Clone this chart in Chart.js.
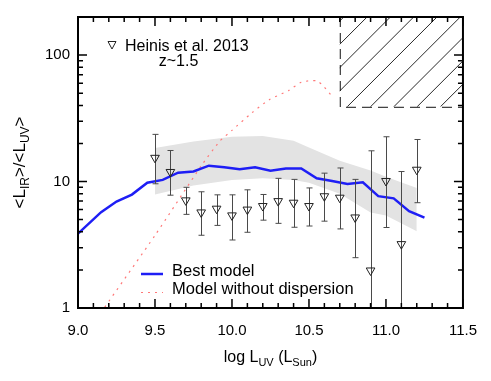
<!DOCTYPE html>
<html>
<head>
<meta charset="utf-8">
<script src="https://cdn.jsdelivr.net/npm/chart.js@4.4.1/dist/chart.umd.min.js"></script>
<style>
  html, body { margin: 0; padding: 0; background: #fff; }
  #wrap { width: 491px; height: 381px; }
</style>
</head>
<body>
<div id="wrap"><canvas id="c" width="491" height="381"></canvas></div>
<script>
// ---- Observations (Heinis et al. 2013, z~1.5) ----
const obsX    = [9.5, 9.6, 9.7, 9.8, 9.9, 10.0, 10.1, 10.2, 10.3, 10.4, 10.5, 10.6, 10.7, 10.8, 10.9, 11.0, 11.1, 11.2];
const obsY    = [15.4, 11.9, 7.1, 5.7, 6.1, 5.4, 6.0, 6.4, 7.0, 6.8, 6.4, 7.65, 7.45, 5.2, 1.98, 10.1, 3.2, 12.4];
const obsHigh = [23.6, 17.6, 9.0, 8.3, 7.85, 7.85, 8.6, 7.9, 10.6, 10.4, 8.9, 11.65, 12.8, 10.4, 17.5, 22.6, 12.0, 21.5];
const obsLow  = [9.6, 7.8, 5.5, 3.76, 4.5, 3.45, 3.97, 4.95, 4.67, 4.35, 4.45, 4.86, 4.22, 2.5, 0.5, 4.33, 0.5, 6.8];

// ---- Best model ----
const modelX = [9.0, 9.15, 9.25, 9.35, 9.45, 9.55, 9.65, 9.75, 9.85, 9.95, 10.05, 10.15, 10.25, 10.35, 10.45, 10.55, 10.65, 10.75, 10.85, 10.95, 11.05, 11.15, 11.25];
const modelY = [3.87, 5.73, 6.95, 7.89, 9.8, 10.3, 11.75, 12.0, 13.35, 12.97, 12.5, 12.97, 12.2, 12.7, 12.7, 10.6, 10.1, 9.57, 9.86, 7.66, 7.36, 5.83, 5.19];

// ---- Dispersion band of the best model ----
const bandX    = [9.5, 9.75, 10.0, 10.2, 10.4, 10.5, 10.7, 10.9, 11.0, 11.2];
const bandHigh = [18.4, 20.7, 22.6, 22.9, 21.0, 18.6, 14.6, 12.2, 10.9, 8.9];
const bandLow  = [7.9, 9.3, 10.3, 10.6, 10.3, 9.8, 8.0, 5.7, 5.4, 4.05];

// ---- Model without dispersion ----
const noDispX = [9.1, 9.17, 9.5, 9.8, 9.92, 10.0, 10.13, 10.24, 10.37, 10.45, 10.55, 10.6, 10.66];
const noDispY = [0.74, 1.0, 3.75, 13.3, 20.8, 25.4, 35, 44.2, 52.6, 61, 62.7, 55.8, 45.5];

// ---- Excluded (hatched) region ----
const hatchX = [10.7, 11.5];
const hatchY = [39, 200];

// ---- Axes ----
const xRange = [9.0, 11.5];
const yRange = [1, 200];
const yTickLabels = [1, 10, 100];

const FONT = '"Liberation Sans", Helvetica, Arial, sans-serif';
const pts = (xs, ys) => xs.map((x, i) => ({ x: x, y: ys[i] }));

function drawRich(ctx, parts, x, y, mainSize, subSize, subDrop) {
  let w = 0;
  parts.forEach(p => {
    ctx.font = (p.sub ? subSize : mainSize) + 'px ' + FONT;
    w += ctx.measureText(p.t).width;
  });
  let cx = x - w / 2;
  parts.forEach(p => {
    ctx.font = (p.sub ? subSize : mainSize) + 'px ' + FONT;
    ctx.fillText(p.t, cx, y + (p.sub ? subDrop : 0));
    cx += ctx.measureText(p.t).width;
  });
}

const decorPlugin = {
  id: 'decor',
  beforeDatasetDraw(chart, args) {
    if (args.index !== 3) return;
    // error bars drawn just before the triangles
    const ctx = chart.ctx, xs = chart.scales.x, ys = chart.scales.y, ca = chart.chartArea;
    ctx.save();
    ctx.beginPath(); ctx.rect(ca.left, ca.top, ca.right - ca.left, ca.bottom - ca.top); ctx.clip();
    ctx.strokeStyle = '#4a4a4a'; ctx.lineWidth = 1;
    obsX.forEach((xv, i) => {
      const px = Math.round(xs.getPixelForValue(xv)) + 0.5;
      const yt = ys.getPixelForValue(obsHigh[i]);
      const yb = ys.getPixelForValue(obsLow[i]);
      ctx.beginPath();
      ctx.moveTo(px, yt); ctx.lineTo(px, yb);
      ctx.moveTo(px - 3, yt); ctx.lineTo(px + 3, yt);
      ctx.moveTo(px - 3, yb); ctx.lineTo(px + 3, yb);
      ctx.stroke();
    });
    ctx.restore();
  },
  afterDatasetsDraw(chart) {
    const ctx = chart.ctx, xs = chart.scales.x, ys = chart.scales.y;
    // hatched region
    const x0 = xs.getPixelForValue(hatchX[0]), x1 = xs.getPixelForValue(hatchX[1]);
    const yb = ys.getPixelForValue(hatchY[0]), yt = ys.getPixelForValue(hatchY[1]);
    ctx.save();
    ctx.beginPath(); ctx.rect(x0, yt, x1 - x0, yb - yt); ctx.clip();
    ctx.strokeStyle = '#111'; ctx.lineWidth = 0.9;
    const h = yb - yt;
    ctx.beginPath();
    for (let k = -12; k <= 12; k++) {
      const xt = x1 - 2.7 + k * 23.3;
      ctx.moveTo(xt, yt); ctx.lineTo(xt - h, yb);
    }
    ctx.stroke();
    ctx.restore();
    ctx.save();
    ctx.strokeStyle = '#111'; ctx.lineWidth = 1; ctx.setLineDash([10, 6]);
    ctx.beginPath();
    ctx.moveTo(x0 + 0.5, yt); ctx.lineTo(x0 + 0.5, yb + 0.5); ctx.lineTo(x1, yb + 0.5);
    ctx.stroke();
    ctx.restore();
  },
  afterDraw(chart) {
    const ctx = chart.ctx, xs = chart.scales.x, ys = chart.scales.y, ca = chart.chartArea;
    ctx.save();
    // frame
    ctx.strokeStyle = '#000'; ctx.lineWidth = 2;
    ctx.strokeRect(ca.left, ca.top, ca.right - ca.left, ca.bottom - ca.top);
    // inward ticks on all four sides
    ctx.lineWidth = 1.5;
    ctx.beginPath();
    for (let i = 0; i <= 25; i++) {
      const v = xRange[0] + i / 10;
      const px = xs.getPixelForValue(v);
      const len = (i % 5 === 0) ? 9 : 5;
      ctx.moveTo(px, ca.bottom); ctx.lineTo(px, ca.bottom - len);
      ctx.moveTo(px, ca.top); ctx.lineTo(px, ca.top + len);
    }
    for (let k = 0; k <= 2; k++) {
      for (let m = 1; m <= 9; m++) {
        const v = m * Math.pow(10, k);
        if (v > yRange[1] || v < yRange[0]) continue;
        const py = ys.getPixelForValue(v);
        const len = (m === 1) ? 9 : 5;
        ctx.moveTo(ca.left, py); ctx.lineTo(ca.left + len, py);
        ctx.moveTo(ca.right, py); ctx.lineTo(ca.right - len, py);
      }
    }
    ctx.stroke();

    ctx.fillStyle = '#000';
    ctx.textAlign = 'left';
    ctx.textBaseline = 'alphabetic';
    // x title
    drawRich(ctx, [
      { t: 'log L' }, { t: 'UV', sub: true }, { t: ' (L' }, { t: 'Sun', sub: true }, { t: ')' }
    ], (ca.left + ca.right) / 2, 362, 16, 11, 4);
    // y title (rotated)
    ctx.save();
    ctx.translate(25, (ca.top + ca.bottom) / 2);
    ctx.rotate(-Math.PI / 2);
    drawRich(ctx, [
      { t: '<L' }, { t: 'IR', sub: true }, { t: '>/<L' }, { t: 'UV', sub: true }, { t: '>' }
    ], 0, 0, 17, 12, 4);
    ctx.restore();

    // annotation
    ctx.font = '16px ' + FONT;
    ctx.fillText('Heinis et al. 2013', 125, 51);
    ctx.textAlign = 'center';
    ctx.fillText('z~1.5', 178.5, 66);
    ctx.textAlign = 'left';
    ctx.strokeStyle = '#222'; ctx.lineWidth = 1;
    ctx.beginPath();
    ctx.moveTo(108, 41.5); ctx.lineTo(116, 41.5); ctx.lineTo(112, 49); ctx.closePath();
    ctx.stroke();

    // legend
    ctx.font = '16.5px ' + FONT;
    ctx.strokeStyle = 'rgb(30,30,245)'; ctx.lineWidth = 2.5;
    ctx.beginPath(); ctx.moveTo(141, 274); ctx.lineTo(163, 274); ctx.stroke();
    ctx.fillText('Best model', 172, 276);
    ctx.strokeStyle = 'rgb(255,120,120)'; ctx.lineWidth = 1.2; ctx.setLineDash([2, 5]);
    ctx.beginPath(); ctx.moveTo(141, 292.5); ctx.lineTo(163, 292.5); ctx.stroke();
    ctx.setLineDash([]);
    ctx.fillText('Model without dispersion', 172, 293.5);
    ctx.restore();
  }
};

new Chart(document.getElementById('c'), {
  type: 'line',
  data: {
    datasets: [
      { label: 'band high', data: pts(bandX, bandHigh), borderWidth: 0, pointRadius: 0,
        backgroundColor: 'rgb(227,227,227)', fill: '+1', order: 4 },
      { label: 'band low', data: pts(bandX, bandLow), borderWidth: 0, pointRadius: 0, fill: false, order: 3 },
      { label: 'Model without dispersion', data: pts(noDispX, noDispY), borderColor: 'rgb(255,120,120)',
        borderWidth: 1.2, borderDash: [2, 5], pointRadius: 0, fill: false, tension: 0.2, order: 2 },
      { label: 'Heinis et al. 2013', data: pts(obsX, obsY), showLine: false, pointStyle: 'triangle',
        rotation: 180, pointRadius: 5, pointBorderColor: '#222', pointBackgroundColor: 'rgba(0,0,0,0)',
        pointBorderWidth: 1, borderColor: '#222', order: 0 },
      { label: 'Best model', data: pts(modelX, modelY), borderColor: 'rgb(30,30,245)', borderWidth: 2.5,
        pointRadius: 0, fill: false, order: 1 }
    ]
  },
  options: {
    responsive: false,
    animation: false,
    devicePixelRatio: 1,
    layout: { padding: { top: 6, right: 25, left: 0, bottom: 0 } },
    plugins: { legend: { display: false }, tooltip: { enabled: false } },
    scales: {
      x: {
        type: 'linear', min: xRange[0], max: xRange[1],
        grid: { display: false, drawTicks: false }, border: { display: false },
        ticks: { stepSize: 0.5, padding: 14, color: '#000', font: { family: FONT, size: 15 },
                 callback: v => Number(v).toFixed(1), maxRotation: 0 },
        afterFit: s => { s.height = 73; }
      },
      y: {
        type: 'logarithmic', min: yRange[0], max: yRange[1],
        grid: { display: false, drawTicks: false }, border: { display: false },
        afterBuildTicks: s => { s.ticks = yTickLabels.map(v => ({ value: v })); },
        ticks: { padding: 8, color: '#000', font: { family: FONT, size: 15 }, callback: v => String(v) },
        afterFit: s => { s.width = 78; }
      }
    }
  },
  plugins: [decorPlugin]
});
</script>
</body>
</html>
